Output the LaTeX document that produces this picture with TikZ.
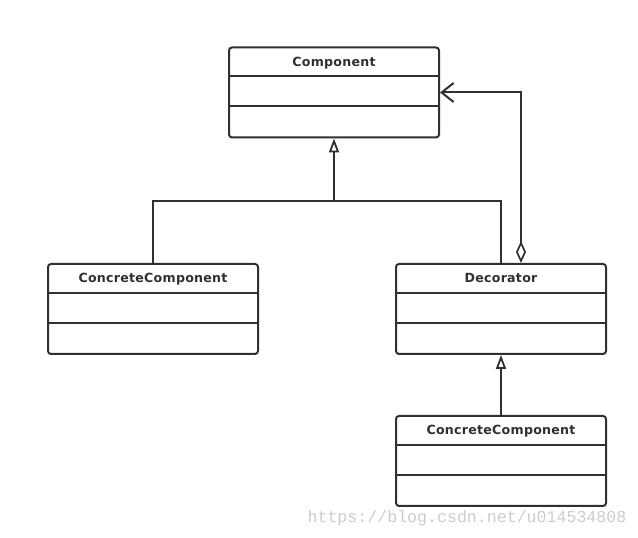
\documentclass[tikz,border=0pt]{standalone}
\usepackage{fontspec}
\setmainfont{DejaVu Sans}
\newfontfamily\titlefont[LetterSpace=2]{DejaVu Sans}
\newfontfamily\wmfont{Liberation Mono}
\usetikzlibrary{arrows.meta}
\definecolor{ink}{RGB}{48,48,48}
\tikzset{
  classbox/.style={draw=ink, line width=2pt, rounded corners=3pt,
    minimum width=210pt, minimum height=90pt, inner sep=0pt},
  classtitle/.style={font=\titlefont\fontsize{12.6pt}{14pt}\selectfont\bfseries, text=ink, inner sep=0pt, anchor=base},
  divider/.style={draw=ink, line width=2pt},
  conn/.style={draw=ink, line width=2pt},
  gen/.style={conn, -{Triangle[open, length=14pt, width=10pt, line width=1.8pt]}},
  agg/.style={conn, {Diamond[open, length=22pt, width=10pt, line width=1.7pt]}-{Straight Barb[length=12pt, width=19pt, line width=2pt]}}
}
\newcommand{\umlclass}[3]{%
  \node[classbox] (#1) at (#2) {};
  \node[classtitle] (#1-t) at ([yshift=-20pt]#1.north) {#3};
  \draw[divider] ([yshift=-30pt]#1.north west) -- ([yshift=-30pt]#1.north east);
  \draw[divider] ([yshift=-60pt]#1.north west) -- ([yshift=-60pt]#1.north east);
}
\begin{document}
\begin{tikzpicture}[x=1pt, y=1pt]
\useasboundingbox[fill=white] (0,0) rectangle (638,538);
\umlclass{comp}{334,445.5}{Component}
\umlclass{ccl}{153,229}{ConcreteComponent}
\umlclass{dec}{501,229}{Decorator}
\umlclass{ccb}{501,77}{ConcreteComponent}
\coordinate (j) at (334,337);
\draw[conn] (ccl.north) |- (j) -| (dec.north);
\draw[gen] (j) -- (comp.south);
\draw[gen] (ccb.north) -- (dec.south);
\coordinate (aggstart) at ([xshift=20pt]dec.north);
\draw[agg] (aggstart) |- (comp.east);
\node[font=\wmfont\fontsize{16.6pt}{18pt}\selectfont, text=black!20, inner sep=0pt] (wm) at (467,20) {https://blog.csdn.net/u014534808};
\end{tikzpicture}
\end{document}
